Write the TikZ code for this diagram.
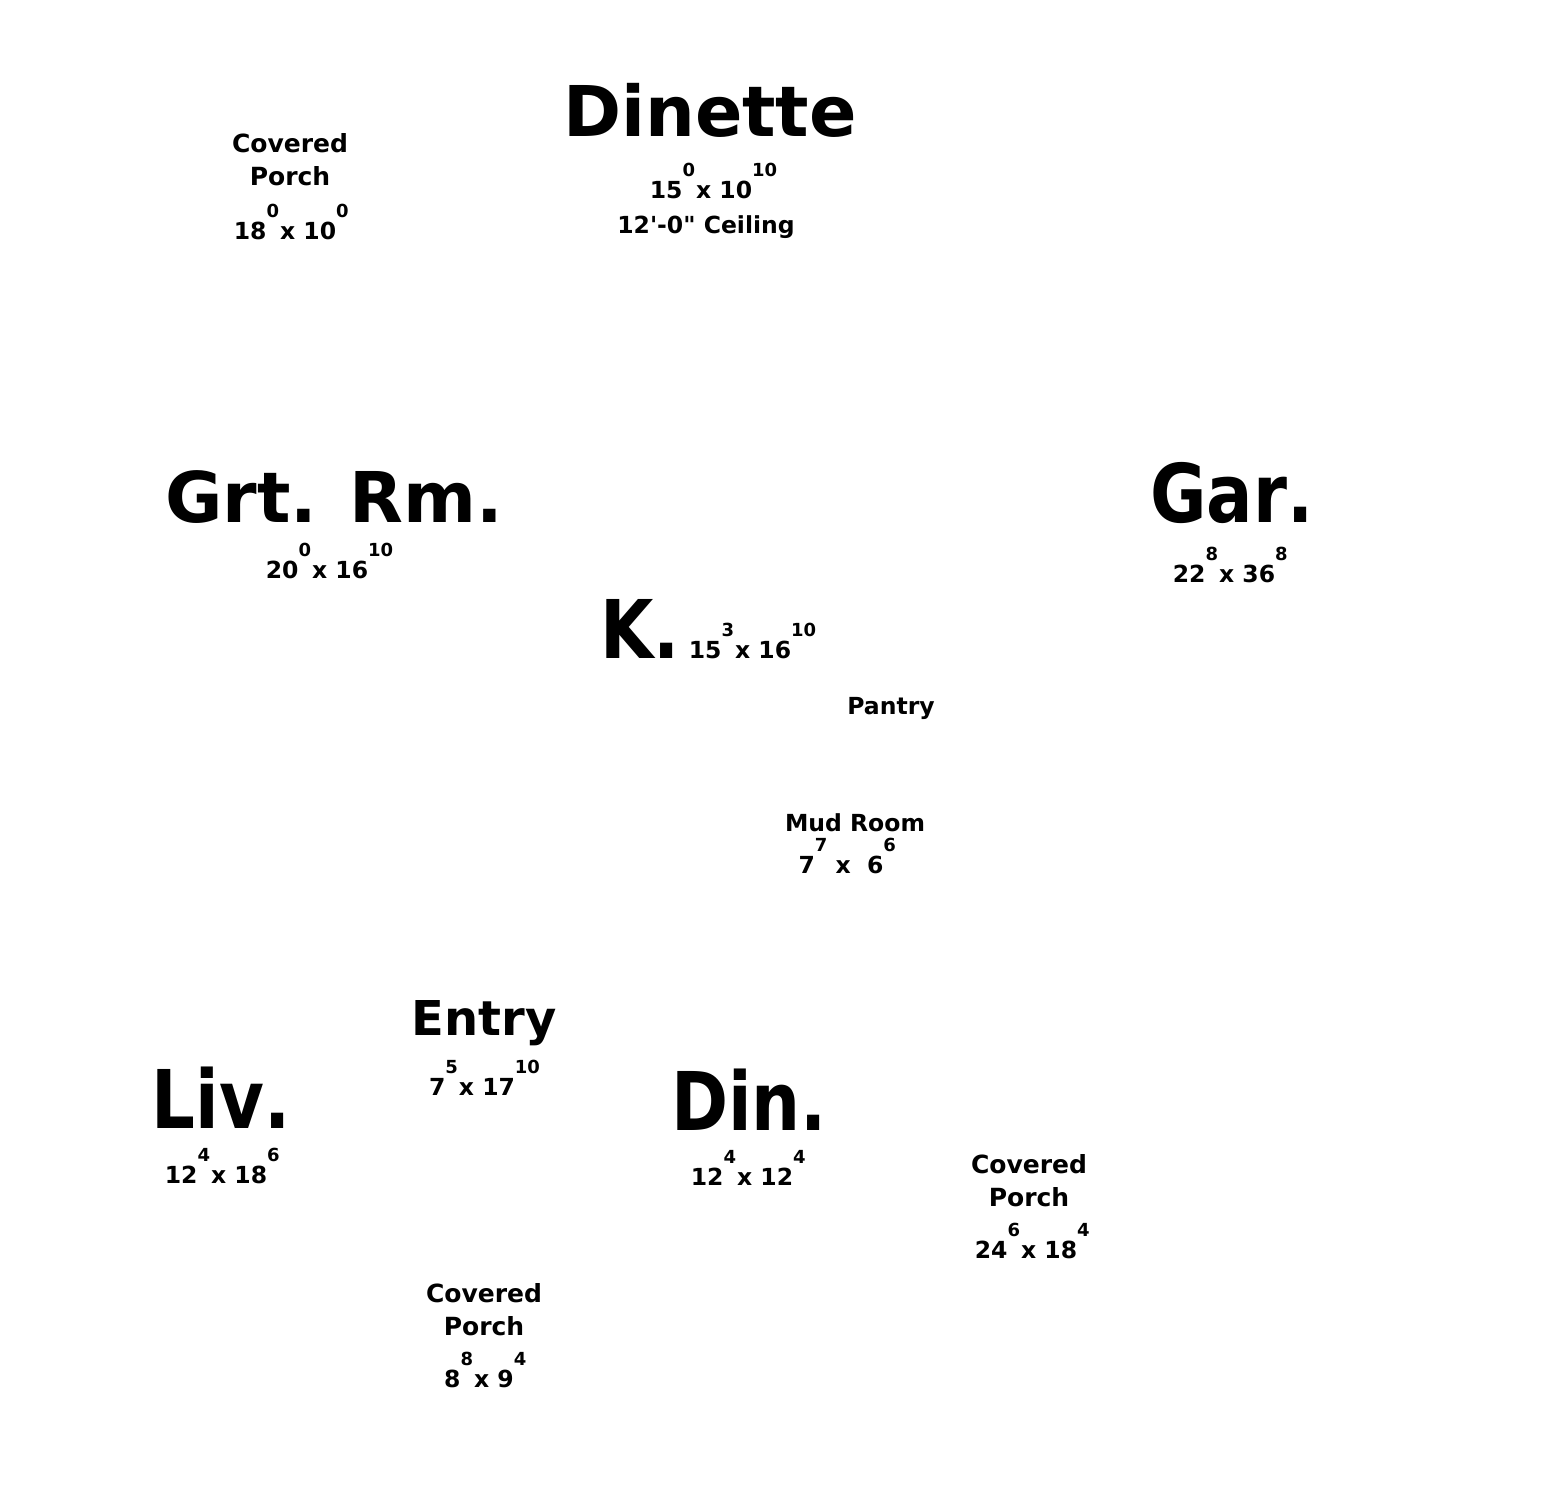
\documentclass[tikz,border=0pt]{standalone}
\usepackage{fontspec}
\setmainfont{DejaVu Sans}
\newfontfamily\narrowfont{DejaVu Sans}[FakeStretch=0.85,Kerning=Off]
\newcommand\inchsup[1]{\raisebox{22pt}{\fontsize{18}{18}\selectfont #1}}
\tikzset{
  room/.style={anchor=base, inner sep=0pt, font=\bfseries\fontsize{70}{80}\selectfont},
  bigroom/.style={anchor=base, inner sep=0pt, font=\narrowfont\bfseries\fontsize{81}{90}\selectfont},
  midroom/.style={anchor=base, inner sep=0pt, font=\bfseries\fontsize{48}{56}\selectfont},
  porch/.style={anchor=base, inner sep=0pt, font=\bfseries\fontsize{25}{30}\selectfont},
  note/.style={anchor=base, inner sep=0pt, font=\bfseries\fontsize{23.5}{28}\selectfont}
}

\begin{document}
\begin{tikzpicture}[x=1pt,y=-1pt]
    \fill[white] (0,0) rectangle (1545,1486);
    \useasboundingbox (0,0) rectangle (1545,1486);
    % porches
    \foreach \n/\x/\y in {nw/290/152, s/484/1302, se/1029/1173} {
      \node[porch] (covered\n) at (\x,\y) {Covered};
      \node[porch] (porch\n) at (\x,\y+33) {Porch};
    }
    \node[note] (porchnwdims) at (285,239) {18\inchsup{0}\kern1pt x 10\rlap{\inchsup{0}}};
    \node[note] (porchsdims) at (479,1387) {8\inchsup{8}\kern1pt x 9\rlap{\inchsup{4}}};
    \node[note] (porchsedims) at (1026,1258) {24\inchsup{6}\kern1pt x 18\rlap{\inchsup{4}}};
    % dinette
    \node[room] (dinette) at (710,136) {Dinette};
    \node[note] (dinettedims) at (701,198) {15\inchsup{0}\kern1pt x 10\rlap{\inchsup{10}}};
    \node[note] (ceiling) at (706,233) {12\textquotesingle-0\textquotedbl{} Ceiling};
    % great room and garage
    \node[room] (grtrm) at (334,522) {Grt. Rm.};
    \node[note] (grtrmdims) at (317,578) {20\inchsup{0}\kern1pt x 16\rlap{\inchsup{10}}};
    \node[bigroom] (gar) at (1232,522) {Gar.};
    \node[note] (gardims) at (1224,582) {22\inchsup{8}\kern1pt x 36\rlap{\inchsup{8}}};
    % kitchen
    \node[bigroom] (kit) at (640,658) {K.};
    \node[note] (kitdims) at (740,658) {15\inchsup{3}\kern1pt x 16\rlap{\inchsup{10}}};
    \node[note] (pantry) at (891,714) {Pantry};
    \node[note] (mudroom) at (855,831) {Mud Room};
    \node[note] (mudroomdims) at (841,873) {7\inchsup{7}\ x\ \ 6\rlap{\inchsup{6}}};
    % front rooms
    \node[midroom] (entry) at (484,1035) {Entry};
    \node[note] (entrydims) at (472,1095) {7\inchsup{5}\kern1pt x 17\rlap{\inchsup{10}}};
    \node[bigroom] (liv) at (221,1128) {Liv.};
    \node[note] (livdims) at (216,1183) {12\inchsup{4}\kern1pt x 18\rlap{\inchsup{6}}};
    \node[bigroom] (din) at (749,1130) {Din.};
    \node[note] (dindims) at (742,1185) {12\inchsup{4}\kern1pt x 12\rlap{\inchsup{4}}};
\end{tikzpicture}
\end{document}
